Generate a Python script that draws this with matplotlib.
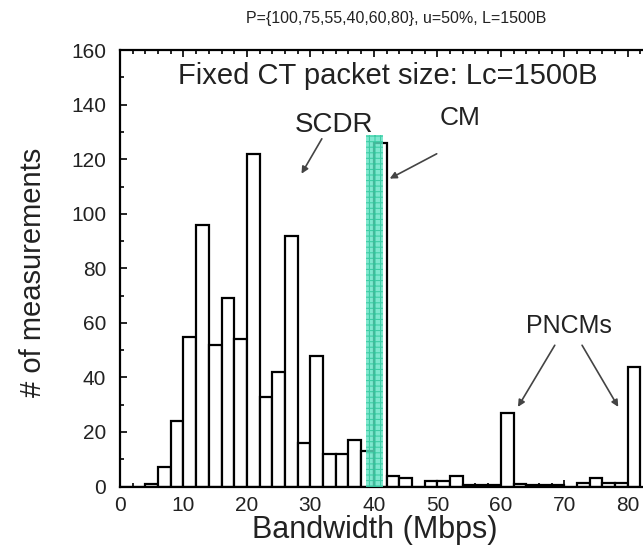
import numpy as np
import matplotlib
matplotlib.use("Agg")
import matplotlib.pyplot as plt
from matplotlib.ticker import MultipleLocator

plt.rcParams["font.family"] = ["Liberation Sans", "DejaVu Sans"]
plt.rcParams["hatch.linewidth"] = 0.8

# histogram data (2 Mbps bins)
bin_left = np.arange(0, 82, 2)
counts = [0, 0, 1, 7, 24, 55, 96, 52, 69, 54,
          122, 33, 42, 92, 16, 48, 12, 12, 17, 13,
          126, 4, 3, 0, 2, 2, 4, 0.6, 0.6, 0.6,
          27, 1, 0.6, 0.6, 0.6, 0, 1.3, 3, 1.2, 1.2,
          44]
bin_width = 2.0

# highlighted CM region
cm_left, cm_width, cm_height = 38.8, 2.6, 129

title = "P={100,75,55,40,60,80}, u=50%, L=1500B"
subtitle = "Fixed CT packet size: Lc=1500B"

fig = plt.figure(figsize=(6.43, 5.51), dpi=100)
ax = fig.add_axes([0.1866, 0.117, 0.8134, 0.792])

ax.bar(bin_left, counts, width=bin_width, align="edge", facecolor="white",
       edgecolor="black", linewidth=1.6, zorder=2)
ax.bar(cm_left, cm_height, width=cm_width, align="edge", facecolor="#5fe3c3",
       edgecolor="#2fc79c", hatch="+++", linewidth=0, alpha=0.8, zorder=3)

ax.set_xlim(0, 82.4)
ax.set_ylim(0, 160)
ax.xaxis.set_major_locator(MultipleLocator(10))
ax.xaxis.set_minor_locator(MultipleLocator(2))
ax.yaxis.set_major_locator(MultipleLocator(20))
ax.yaxis.set_minor_locator(MultipleLocator(10))
ax.tick_params(which="both", direction="in", top=True, right=False,
               width=1.2, colors="black", labelcolor="#222222")
ax.tick_params(which="major", length=5)
ax.tick_params(which="minor", length=3)
ax.tick_params(axis="y", labelsize=15, pad=10)
ax.tick_params(axis="x", labelsize=15, pad=7)
for s in ["left", "bottom", "top"]:
    ax.spines[s].set_linewidth(1.6)
ax.spines["right"].set_visible(False)

ax.set_xlabel("Bandwidth (Mbps)", fontsize=22, color="#222222")
ax.xaxis.set_label_coords(0.487, -0.065)
ax.set_ylabel("# of measurements", fontsize=21, color="#222222")
ax.yaxis.set_label_coords(-0.14, 0.49)

fig.text(0.616, 0.967, title, ha="center", va="center", fontsize=11.5,
         color="#222222")
ax.text(42.2, 150.4, subtitle, ha="center", va="center", fontsize=21, color="#222222")

arrow = dict(arrowstyle="-|>", color="#444444", lw=1.2, mutation_scale=10,
             shrinkA=0, shrinkB=0)
ax.text(33.7, 132.6, "SCDR", ha="center", va="center", fontsize=20, color="#222222")
ax.annotate("", xy=(28.6, 114.7), xytext=(31.8, 127.5), arrowprops=arrow)
ax.text(53.5, 135, "CM", ha="center", va="center", fontsize=19, color="#222222")
ax.annotate("", xy=(42.5, 112.9), xytext=(49.9, 122), arrowprops=arrow)
ax.text(70.7, 58.8, "PNCMs", ha="center", va="center", fontsize=18, color="#222222")
ax.annotate("", xy=(62.7, 29.2), xytext=(68.5, 51.8), arrowprops=arrow)
ax.annotate("", xy=(78.5, 29.2), xytext=(72.8, 51.8), arrowprops=arrow)

fig.savefig("out.png", dpi=100)
